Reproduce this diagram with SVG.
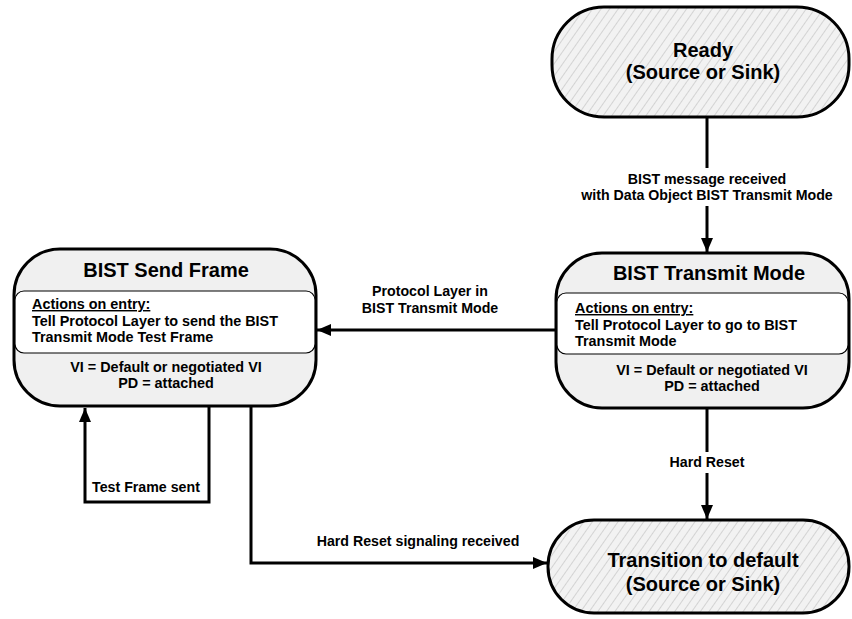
<svg xmlns="http://www.w3.org/2000/svg" width="852" height="619" viewBox="0 0 852 619">
  <style>
    text { font-family: "Liberation Sans", Arial, sans-serif; font-weight: bold; fill: #000; }
    .title { font-size: 20px; text-anchor: middle; }
    .body { font-size: 14.4px; }
    .mid { text-anchor: middle; }
    .lbl { font-size: 14.2px; text-anchor: middle; }
    .state { stroke: #000; stroke-width: 3; fill: #f0f0f0; }
    .hatched { stroke: #000; stroke-width: 3; fill: url(#hatch); }
    .inner { stroke: #000; stroke-width: 1.2; fill: #fff; }
    .wire { stroke: #000; stroke-width: 3; fill: none; }
    .u { text-decoration: underline; }
  </style>
  <defs>
    <pattern id="hatch" patternUnits="userSpaceOnUse" width="7" height="7" patternTransform="rotate(35)">
      <rect width="7" height="7" fill="#f2f2f2"/>
      <line x1="0" y1="0" x2="0" y2="7" stroke="#b4b4b4" stroke-width="1"/>
    </pattern>
    <marker id="arrow" markerUnits="userSpaceOnUse" markerWidth="14" markerHeight="12" viewBox="0 0 14 12" refX="14" refY="6" orient="auto">
      <path d="M0,0 L14,6 L0,12 Z" fill="#000"/>
    </marker>
    <clipPath id="clipSend"><rect x="14" y="249" width="302" height="157" rx="46"/></clipPath>
    <clipPath id="clipTx"><rect x="556" y="253" width="293" height="155" rx="46"/></clipPath>
  </defs>

  <!-- connectors -->
  <g id="connectors">
    <line class="wire" x1="707" y1="117" x2="707" y2="168"/>
    <line class="wire" x1="707" y1="206" x2="707" y2="252" marker-end="url(#arrow)"/>
    <text class="lbl" x="707" y="184">BIST message received</text>
    <text class="lbl" x="707" y="200">with Data Object BIST Transmit Mode</text>

    <line class="wire" x1="556" y1="330" x2="317" y2="330" marker-end="url(#arrow)"/>
    <text class="lbl" x="430" y="296">Protocol Layer in</text>
    <text class="lbl" x="430" y="313">BIST Transmit Mode</text>

    <polyline class="wire" points="209,406 209,502 85,502 85,408" marker-end="url(#arrow)"/>
    <text class="lbl" x="146" y="492">Test Frame sent</text>

    <polyline class="wire" points="251,406 251,563 547,563" marker-end="url(#arrow)"/>
    <text class="lbl" x="418" y="546">Hard Reset signaling received</text>

    <line class="wire" x1="707" y1="408" x2="707" y2="452"/>
    <line class="wire" x1="707" y1="473" x2="707" y2="519" marker-end="url(#arrow)"/>
    <text class="lbl" x="707" y="467">Hard Reset</text>
  </g>

  <!-- Ready -->
  <g id="ready">
    <rect class="hatched" x="552" y="7" width="297" height="110" rx="52"/>
    <text class="title" x="703" y="57">Ready</text>
    <text class="title" x="703" y="79">(Source or Sink)</text>
  </g>

  <!-- BIST Send Frame -->
  <g id="bist-send-frame">
    <rect class="state" x="14" y="249" width="302" height="157" rx="46"/>
    <rect class="inner" x="15" y="291" width="300" height="62" rx="9" clip-path="url(#clipSend)"/>
    <text class="title" x="166" y="277">BIST Send Frame</text>
    <text class="body u" x="32" y="309">Actions on entry:</text>
    <text class="body" x="32" y="326">Tell Protocol Layer to send the BIST</text>
    <text class="body" x="32" y="342">Transmit Mode Test Frame</text>
    <text class="body mid" x="166" y="372">VI = Default or negotiated VI</text>
    <text class="body mid" x="166" y="388">PD = attached</text>
  </g>

  <!-- BIST Transmit Mode -->
  <g id="bist-transmit-mode">
    <rect class="state" x="556" y="253" width="293" height="155" rx="46"/>
    <rect class="inner" x="557" y="293" width="291" height="61" rx="9" clip-path="url(#clipTx)"/>
    <text class="title" x="709" y="280">BIST Transmit Mode</text>
    <text class="body u" x="575" y="313">Actions on entry:</text>
    <text class="body" x="575" y="330">Tell Protocol Layer to go to BIST</text>
    <text class="body" x="575" y="346">Transmit Mode</text>
    <text class="body mid" x="712" y="375">VI = Default or negotiated VI</text>
    <text class="body mid" x="712" y="391">PD = attached</text>
  </g>

  <!-- Transition to default -->
  <g id="transition-to-default">
    <rect class="hatched" x="548" y="520" width="301" height="93" rx="46"/>
    <text class="title" x="703" y="567">Transition to default</text>
    <text class="title" x="703" y="591">(Source or Sink)</text>
  </g>
</svg>
